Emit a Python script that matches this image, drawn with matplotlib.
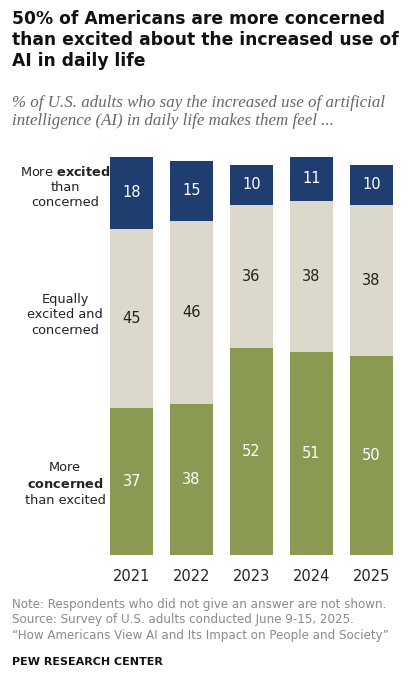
import matplotlib.pyplot as plt

years = ["2021", "2022", "2023", "2024", "2025"]
concerned = [37, 38, 52, 51, 50]
equally = [45, 46, 36, 38, 38]
excited = [18, 15, 10, 11, 10]

c_con, c_eq, c_exc = "#8b9a52", "#dcd8cb", "#1f3d6e"

fig = plt.figure(figsize=(4.11, 6.8), dpi=100)
ax = fig.add_axes([0.268, 0.184, 0.688, 0.585])
x = range(len(years))
w = 0.72
ax.bar(x, concerned, w, color=c_con)
ax.bar(x, equally, w, bottom=concerned, color=c_eq)
b2 = [a + b for a, b in zip(concerned, equally)]
ax.bar(x, excited, w, bottom=b2, color=c_exc)
for i in x:
    ax.text(i, concerned[i] / 2, str(concerned[i]), ha="center", va="center", color="white", fontsize=10.5)
    ax.text(i, concerned[i] + equally[i] / 2, str(equally[i]), ha="center", va="center", color="#222222", fontsize=10.5)
    ax.text(i, b2[i] + excited[i] / 2, str(excited[i]), ha="center", va="center", color="white", fontsize=10.5)
ax.set_xlim(-0.36, 4.36)
ax.set_ylim(0, 100)
ax.axis("off")
for i in x:
    ax.text(i, -3.5, years[i], ha="center", va="top", fontsize=10.5, color="#222222")

fs = 9.3
fig.text(0.158, 1 - 187 / 680, "More $\\bf{excited}$\nthan\nconcerned", ha="center", va="center", fontsize=fs, linespacing=1.25, color="#222222")
fig.text(0.158, 1 - 315 / 680, "Equally\nexcited and\nconcerned", ha="center", va="center", fontsize=fs, linespacing=1.25, color="#222222")
fig.text(0.158, 1 - 484 / 680, "More\n$\\bf{concerned}$\nthan excited", ha="center", va="center", fontsize=fs, linespacing=1.25, color="#222222")

fig.text(0.03, 1 - 10 / 680, "50% of Americans are more concerned\nthan excited about the increased use of\nAI in daily life",
         ha="left", va="top", fontsize=12.3, fontweight="bold", linespacing=1.2, color="#111111")
fig.text(0.03, 1 - 95 / 680, "% of U.S. adults who say the increased use of artificial\nintelligence (AI) in daily life makes them feel ...",
         ha="left", va="top", fontsize=12.2, style="italic", family="Liberation Serif", color="#666666", linespacing=1.15)
fig.text(0.03, 1 - 598 / 680, "Note: Respondents who did not give an answer are not shown.\nSource: Survey of U.S. adults conducted June 9-15, 2025.\n\u201cHow Americans View AI and Its Impact on People and Society\u201d",
         ha="left", va="top", fontsize=8.6, color="#8a8a8a", linespacing=1.25)
fig.text(0.03, 1 - 657 / 680, "PEW RESEARCH CENTER", ha="left", va="top", fontsize=8, fontweight="bold", color="#111111")
fig.savefig("out.png", dpi=100)
